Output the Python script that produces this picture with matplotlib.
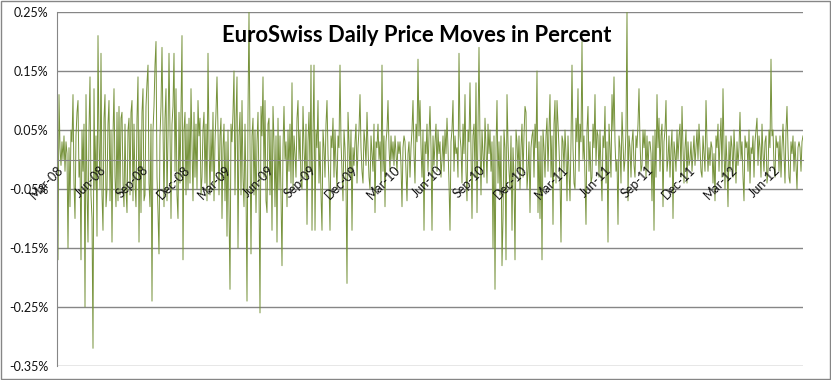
import numpy as np
import pandas as pd
import matplotlib
matplotlib.use('Agg')
import matplotlib.pyplot as plt
import matplotlib.dates as mdates
from matplotlib.ticker import FixedLocator, FuncFormatter

# daily EUR/CHF moves, in basis points (1/100 of a percent)
moves_bp = [
    0, -17, 11,
    2, -1, 3, 0, 4, -2, 3, 1, -15, 2,
    -8, 5, 3, 11, -4, -10, 4, 8, 10, -3,
    0, -17, 5, -2, 6, -25, 11, -5, -14, 5,
    14, -6, -10, -32, 12, -5, 4, -13, 21, 3,
    -5, 18, -6, -12, 7, 11, -8, -5, 6, 10,
    -7, 5, -14, 4, 12, -3, -8, 8, -7, 9,
    -6, 7, 8, -4, -8, 6, -5, -9, 5, 7,
    -6, 8, 10, -7, 6, -4, -8, 7, 14, -14,
    5, -9, 8, 12, -7, -6, 9, 13, 16, -4,
    -8, 6, -24, 5, 9, 16, 20, -3, -9, -16,
    4, 9, 19, 6, -8, 7, 12, -7, 4, 18,
    5, -10, 6, 9, 18, -2, 12, -6, -10, 8,
    -4, 9, 21, -17, 5, 8, -6, 6, -5, 7,
    -4, 12, 2, -7, 8, -3, 6, -5, 10, 4,
    7, -6, -3, 5, 8, -4, 6, -7, 18, 3,
    -6, 5, -2, 8, -7, 3, 8, 14, 5, -6,
    4, 7, -10, 2, 6, -7, 3, -13, 5, -8,
    -22, 6, 3, 8, 15, -6, 7, 14, -15, 4,
    8, -6, 10, -3, -8, 6, -5, -24, 8, 25,
    3, -16, 4, 7, -6, 5, -9, 3, 8, -5,
    -26, 9, 4, 14, -3, 10, -7, -9, 6, 7,
    -6, 5, -12, 9, 3, -8, 4, -14, 7, -5,
    4, -6, -18, 2, 9, 0, 3, -8, 5, -2,
    6, -4, 13, -5, 4, 1, -3, 7, 10, 0,
    5, -4, -5, 9, 2, -3, 6, -11, 3, 8,
    -2, 16, -12, 4, 16, -12, 5, 2, 10, -4,
    3, -6, -12, 5, 2, -3, 6, 10, 1, -4,
    -12, 4, 2, 7, -3, 5, -1, -5, 4, 2,
    16, 3, -2, -7, 5, 2, -4, -21, 8, 3,
    -3, 5, -12, 2, -1, 3, 6, -4, 2, 5,
    11, 2, -2, -4, 5, 3, -1, 8, 2, -3,
    -5, 4, 1, -2, 6, -9, 3, 2, 6, 0,
    3, -4, 16, -2, 4, -8, 3, 5, 10, 2,
    -2, 4, 0, 3, -1, 4, 1, -2, 3, 1,
    3, -1, -8, 2, 4, 3, -2, -7, 1, 3,
    -3, 2, 5, 10, 1, -4, 6, 3, 17, 4,
    10, 2, -3, 5, -12, 3, 1, 6, -2, 4,
    9, 2, -12, 4, -1, 3, 6, -2, 5, 1,
    3, -3, 0, 4, -2, 5, 1, 7, 2, -4,
    -12, 3, 5, 10, -2, 4, 1, 2, -3, 18,
    4, 2, -4, 6, 1, 11, -2, -7, 5, 3,
    13, 2, -10, 4, 6, -3, 13, -9, 5, 19,
    3, -6, 5, 1, -3, 7, 2, -4, 6, 1,
    5, -2, 3, -15, 4, -22, 2, 10, -4, 3,
    -6, 4, -18, -10, 5, 2, -17, 11, 3, -2,
    -5, 4, -12, 2, -3, -17, 5, 3, -2, 4,
    -5, 2, 6, -3, 4, 9, 8, -5, -2, 3,
    -9, 2, 4, 5, -3, 6, 2, 15, -9, 3,
    -10, 4, -17, 5, 2, -3, 4, 7, -2, 5,
    11, -3, 4, -11, 6, 10, -4, 10, 6, 2,
    -3, -14, 4, 3, -2, 5, 1, -7, 4, -2,
    -7, 3, 16, 2, -4, -5, 7, 3, 12, -2,
    6, 3, 20, 0, 4, -3, -11, 5, 9, -2,
    3, -4, -3, 6, 2, 11, -1, 5, 4, -3,
    5, -2, -7, 4, 2, 9, -4, 3, -14, 6,
    2, -3, 11, 5, 14, 3, -2, 0, -11, 4,
    2, -4, 8, 3, -2, 0, 5, 25, -7, 4,
    2, -3, 3, 5, -1, -3, 4, 2, 6, 12,
    3, -2, -1, 5, 2, 5, -3, 4, -2, 3,
    3, 1, -7, 4, -12, 5, -3, 11, 2, 7,
    -2, 4, 6, -8, 3, 5, 10, -2, 0, 4,
    -3, 2, 5, -10, 3, 1, -2, 5, 0, 4,
    6, -3, 9, 2, -4, 2, 5, -4, 3, -1,
    0, 3, -2, 1, 4, -1, 2, 5, 0, 6,
    2, -2, -3, 4, 1, -2, 10, 3, -2, 2,
    -1, 3, 2, -4, 1, -7, 4, 2, 6, -2,
    3, 7, -3, 12, 2, -5, 4, -1, -8, 3,
    -2, 4, 2, -3, 5, 1, -4, 3, -1, 2,
    8, 0, 3, -3, -7, 4, 2, 3, -2, 5,
    -4, 2, 1, 4, -3, 3, 5, 7, -1, 4,
    2, -3, 6, 1, -2, 3, 4, -4, -2, 5,
    2, 17, 4, 5, -1, -3, 4, 2, 3, -2,
    4, -3, 2, 6, 1, -4, 5, 9, 2, -3,
    -4, 3, 1, 4, -2, 3, -1, -5, 2, 3,
    2, -2, 3, 4,
]
start_date = '2008-03-01'
end_date = '2012-08-03'
y_ticks = [-0.35, -0.25, -0.15, -0.05, 0.05, 0.15, 0.25]
x_tick_months = pd.date_range('2008-03-01', '2012-06-01', freq='3MS')
x_tick_labels = [d.strftime('%b-%y') for d in x_tick_months]

dates = pd.date_range(start_date, end_date, periods=len(moves_bp))
moves_pct = np.array(moves_bp) / 100.0

plt.rcParams['font.family'] = ['Lato', 'DejaVu Sans']
grey = '#868686'

fig = plt.figure(figsize=(8.31, 3.80), dpi=100)
ax = fig.add_axes([57 / 831, 1 - 366 / 380, 746 / 831, 354 / 380])

ax.plot(dates, moves_pct, color='#77933C', lw=0.7, zorder=2)

# spine position first: it resets the ticks
ax.spines['bottom'].set_position(('data', 0))
ax.spines['bottom'].set_color(grey)
ax.spines['bottom'].set_zorder(2.5)
ax.spines['left'].set_color(grey)
ax.spines['top'].set_visible(False)
ax.spines['right'].set_visible(False)

ax.set_xlim(dates[0], dates[-1])
ax.set_ylim(-0.35, 0.25)
ax.yaxis.set_major_locator(FixedLocator(y_ticks))
ax.yaxis.set_major_formatter(FuncFormatter(lambda v, p: f'{v:.2f}%'))
ax.yaxis.grid(True, color=grey, lw=1)
ax.tick_params(axis='y', length=0, pad=6, labelsize=9, labelcolor='#111111')

ax.tick_params(axis='x', length=0, pad=3, labelsize=9, labelcolor='#111111')
ax.set_xticks(mdates.date2num(x_tick_months), x_tick_labels,
              rotation=45, ha='right', rotation_mode='anchor')
ax.xaxis.set_zorder(3)

fig.text(417 / 831, 1 - 35 / 380, 'EuroSwiss Daily Price Moves in Percent',
         ha='center', va='center', fontsize=15.8, fontweight='bold', zorder=5)

fig.add_artist(plt.Rectangle((0.5 / 831, 1.5 / 380), 829 / 831, 378 / 380,
                             transform=fig.transFigure, fill=False, ec=grey, lw=1))

fig.savefig('out.png', dpi=100)
